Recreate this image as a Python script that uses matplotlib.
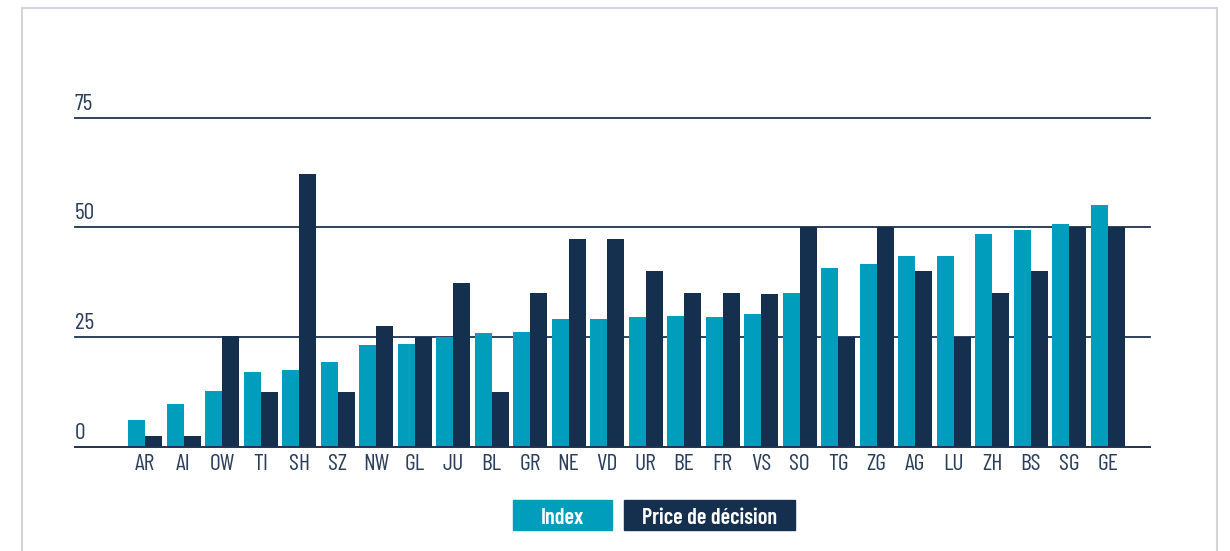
import matplotlib
matplotlib.use("Agg")
import matplotlib.pyplot as plt
from matplotlib.patches import Rectangle
import numpy as np

cantons = ["AR", "AI", "OW", "TI", "SH", "SZ", "NW", "GL", "JU", "BL", "GR", "NE", "VD",
           "UR", "BE", "FR", "VS", "SO", "TG", "ZG", "AG", "LU", "ZH", "BS", "SG", "GE"]
index_vals = [6.2, 9.8, 12.8, 17.1, 17.5, 19.4, 23.2, 23.5, 25.0, 26.0, 26.2, 29.2, 29.2,
              29.6, 29.8, 29.6, 30.3, 35.0, 40.8, 41.7, 43.5, 43.5, 48.5, 49.4, 50.8, 55.1]
price_vals = [2.5, 2.5, 25.3, 12.5, 62.2, 12.5, 27.6, 25.0, 37.4, 12.5, 35.0, 47.4, 47.4,
              40.0, 35.0, 35.0, 34.9, 50.0, 25.0, 50.0, 40.0, 25.0, 35.0, 40.0, 50.0, 50.0]
yticks = [0, 25, 50, 75]
legend_labels = ["Index", "Price de décision"]

FAM = ["Barlow Condensed", "DejaVu Sans"]
plt.rcParams['font.family'] = FAM

TEAL = "#009dbd"
NAVY = "#15304f"
TXT = "#2b3f5c"
LINE = "#1f3350"
W, H = 1230, 551

fig = plt.figure(figsize=(W / 100, H / 100), dpi=100)
fig.patch.set_facecolor("white")

# outer light frame
fig.add_artist(Rectangle((22 / W, -0.05), (1217 - 22) / W, 1.05 - 8 / H,
                         transform=fig.transFigure, fill=False,
                         edgecolor="#d3d3da", lw=1.5))

ax = fig.add_axes([75 / W, 1 - 447 / H, (1150 - 75) / W, (447 - 95.6) / H])
x = np.arange(len(cantons))
bw = 0.44
ax.bar(x - bw / 2, index_vals, width=bw, color=TEAL, zorder=2)
ax.bar(x + bw / 2, price_vals, width=bw, color=NAVY, zorder=2)

ax.set_xlim(-1.82, 26.1)
ax.set_ylim(0, 80)
for v in yticks:
    ax.axhline(v, color=LINE, lw=1.4 if v == 0 else 1.3, zorder=1 if v else 3, clip_on=False)
    ax.text(-1.82, v + 1.8, str(v), fontsize=17, color=TXT, ha="left", va="baseline")

for s in ax.spines.values():
    s.set_visible(False)
ax.set_yticks([])
ax.set_xticks(x)
ax.set_xticklabels(cantons, fontsize=17, color=TXT)
ax.tick_params(axis="x", length=0, pad=5)

# legend boxes
boxes = [(513, 612, TEAL), (624, 795, NAVY)]
for (x0, x1, c), lab in zip(boxes, legend_labels):
    fig.add_artist(Rectangle((x0 / W, 1 - 530 / H), (x1 - x0) / W, 30 / H,
                             transform=fig.transFigure, color=c))
    fig.text((x0 + x1) / 2 / W, 1 - 523.5 / H, lab, color="white", fontsize=16,
             fontweight="semibold", ha="center", va="baseline")

fig.savefig("out.png", dpi=100)
